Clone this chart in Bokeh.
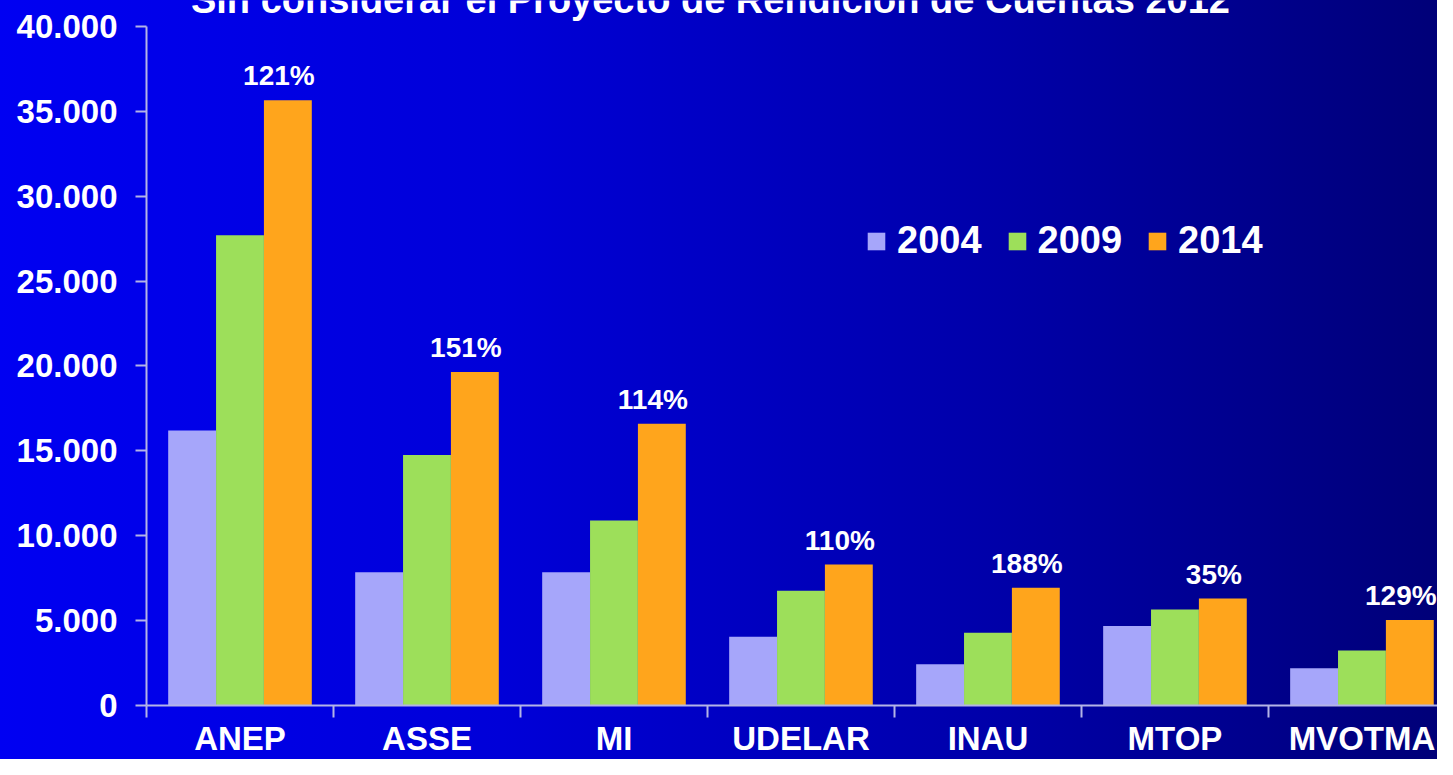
from bokeh.plotting import figure
from bokeh.models import ColumnDataSource, FixedTicker, Legend, LegendItem
from bokeh.transform import dodge
from bokeh.core.properties import value
from bokeh.embed import file_html
from bokeh.resources import INLINE

# ---- data ----
categories = ["ANEP", "ASSE", "MI", "UDELAR", "INAU", "MTOP", "MVOTMA"]
years = ["2004", "2009", "2014"]
v2004 = [16200, 7850, 7850, 4050, 2430, 4680, 2200]
v2009 = [27700, 14750, 10900, 6760, 4280, 5660, 3240]
v2014 = [35650, 19650, 16600, 8300, 6940, 6300, 5030]
pct_labels = ["121%", "151%", "114%", "110%", "188%", "35%", "129%"]
y_ticks = [0, 5000, 10000, 15000, 20000, 25000, 30000, 35000, 40000]
y_tick_labels = ["0", "5.000", "10.000", "15.000", "20.000", "25.000", "30.000", "35.000", "40.000"]
title_text = "Sin considerar el Proyecto de Rendición de Cuentas 2012"

colors = ["#a6a6fa", "#9ddf5a", "#ffa51c"]
FONT = "Liberation Sans"

Y_TOP = 41530  # a little headroom above 40.000 for the (cut) title

src = ColumnDataSource(dict(
    x=list(range(len(categories))),
    y2004=v2004, y2009=v2009, y2014=v2014, pct=pct_labels,
))

p = figure(width=1437, height=759, output_backend="svg", toolbar_location=None,
           x_range=(-0.5, 6.404), y_range=(0, Y_TOP),
           min_border_left=146, min_border_right=0, min_border_top=0,
           min_border_bottom=0)
p.background_fill_color = None
p.border_fill_color = None
p.outline_line_color = None
p.styles = {"background": "linear-gradient(to right, #0000f2 0%, #0000d8 35%, #0000a8 70%, #000078 100%)"}
p.grid.visible = False

bw = 0.256
offs = [-bw, 0.0, bw]
cols = ["y2004", "y2009", "y2014"]
rends = []
for c, o, col in zip(cols, offs, colors):
    r = p.vbar(x=dodge("x", o, range=p.x_range), top=c, width=bw, bottom=0,
               source=src, fill_color=col, line_color=None)
    rends.append(r)

p.text(x=dodge("x", bw, range=p.x_range), y="y2014", text="pct", source=src,
       text_align="center", text_baseline="bottom", x_offset=-9, y_offset=-9,
       text_color="white", text_font=value(FONT), text_font_style="bold",
       text_font_size="28px")

# title, cut off by the top edge as in the original slide
p.text(x=[2.516], y=[Y_TOP], text=[title_text], text_align="center",
       text_baseline="alphabetic", y_offset=-1, text_color="white",
       text_font=value(FONT), text_font_style="bold", text_font_size="38px")

# axes
ax_col = "#b4b4e6"
xa = p.xaxis[0]
xa.ticker = FixedTicker(ticks=list(range(len(categories))),
                        minor_ticks=[i - 0.5 for i in range(len(categories) + 1)])
xa.major_label_overrides = {i: n for i, n in enumerate(categories)}
xa.major_tick_line_color = None
xa.minor_tick_line_color = ax_col
xa.minor_tick_line_width = 2
xa.minor_tick_in = 0
xa.minor_tick_out = 12
xa.axis_line_color = ax_col
xa.axis_line_width = 2
xa.major_label_text_color = "white"
xa.major_label_text_font = FONT
xa.major_label_text_font_style = "bold"
xa.major_label_text_font_size = "33px"
xa.major_label_standoff = 2

ya = p.yaxis[0]
ya.ticker = FixedTicker(ticks=y_ticks, minor_ticks=[])
ya.bounds = (0, 40000)
ya.major_label_overrides = {t: l for t, l in zip(y_ticks, y_tick_labels)}
ya.major_tick_line_color = ax_col
ya.major_tick_line_width = 2
ya.major_tick_in = 0
ya.major_tick_out = 11
ya.axis_line_color = ax_col
ya.axis_line_width = 2
ya.major_label_text_color = "white"
ya.major_label_text_font = FONT
ya.major_label_text_font_style = "bold"
ya.major_label_text_font_size = "33px"
ya.major_label_standoff = 18

legend = Legend(items=[LegendItem(label=y, renderers=[r]) for y, r in zip(years, rends)],
                orientation="horizontal", location=(719, 443))
legend.background_fill_color = None
legend.border_line_color = None
legend.padding = 0
legend.margin = 0
legend.spacing = 24
legend.glyph_width = 22
legend.glyph_height = 22
legend.label_standoff = 10
legend.label_text_color = "white"
legend.label_text_font = FONT
legend.label_text_font_style = "bold"
legend.label_text_font_size = "38px"
legend.label_height = 40
p.add_layout(legend, "center")

open("out.html", "w").write(file_html(p, INLINE))
